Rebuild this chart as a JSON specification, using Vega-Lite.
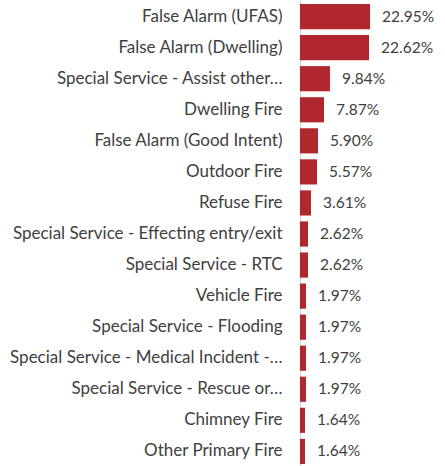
{
  "$schema": "https://vega.github.io/schema/vega-lite/v6.json",
  "width": 145,
  "height": 468,
  "padding": 0,
  "background": "white",
  "config": {"view": {"stroke": null}, "font": "Lato"},
  "data": {"values": [
    {"type": "False Alarm (UFAS)", "pct": 0.2295},
    {"type": "False Alarm (Dwelling)", "pct": 0.2262},
    {"type": "Special Service - Assist other…", "pct": 0.0984},
    {"type": "Dwelling Fire", "pct": 0.0787},
    {"type": "False Alarm (Good Intent)", "pct": 0.0590},
    {"type": "Outdoor Fire", "pct": 0.0557},
    {"type": "Refuse Fire", "pct": 0.0361},
    {"type": "Special Service - Effecting entry/exit", "pct": 0.0262},
    {"type": "Special Service - RTC", "pct": 0.0262},
    {"type": "Vehicle Fire", "pct": 0.0197},
    {"type": "Special Service - Flooding", "pct": 0.0197},
    {"type": "Special Service - Medical Incident -…", "pct": 0.0197},
    {"type": "Special Service - Rescue or…", "pct": 0.0197},
    {"type": "Chimney Fire", "pct": 0.0164},
    {"type": "Other Primary Fire", "pct": 0.0164}
  ]},
  "encoding": {
    "y": {"field": "type", "type": "nominal", "sort": null,
      "scale": {"paddingInner": 0.19, "paddingOuter": 0.13},
      "axis": {"title": null, "ticks": false, "labelPadding": 18, "minExtent": 300, "maxExtent": 300,
        "labelFontSize": 17, "labelColor": "#404040", "labelFont": "Lato", "labelLimit": 400,
        "domainColor": "#d9d9d9", "domainWidth": 1.5}},
    "x": {"field": "pct", "type": "quantitative", "scale": {"domain": [0, 0.475]}, "axis": null}
  },
  "layer": [
    {"mark": {"type": "bar", "color": "#b0272d"}},
    {"mark": {"type": "text", "align": "left", "baseline": "middle", "dx": 12, "fontSize": 15.5, "color": "#404040", "font": "Lato"},
     "encoding": {"text": {"field": "pct", "type": "quantitative", "format": ".2%"}}}
  ]
}
